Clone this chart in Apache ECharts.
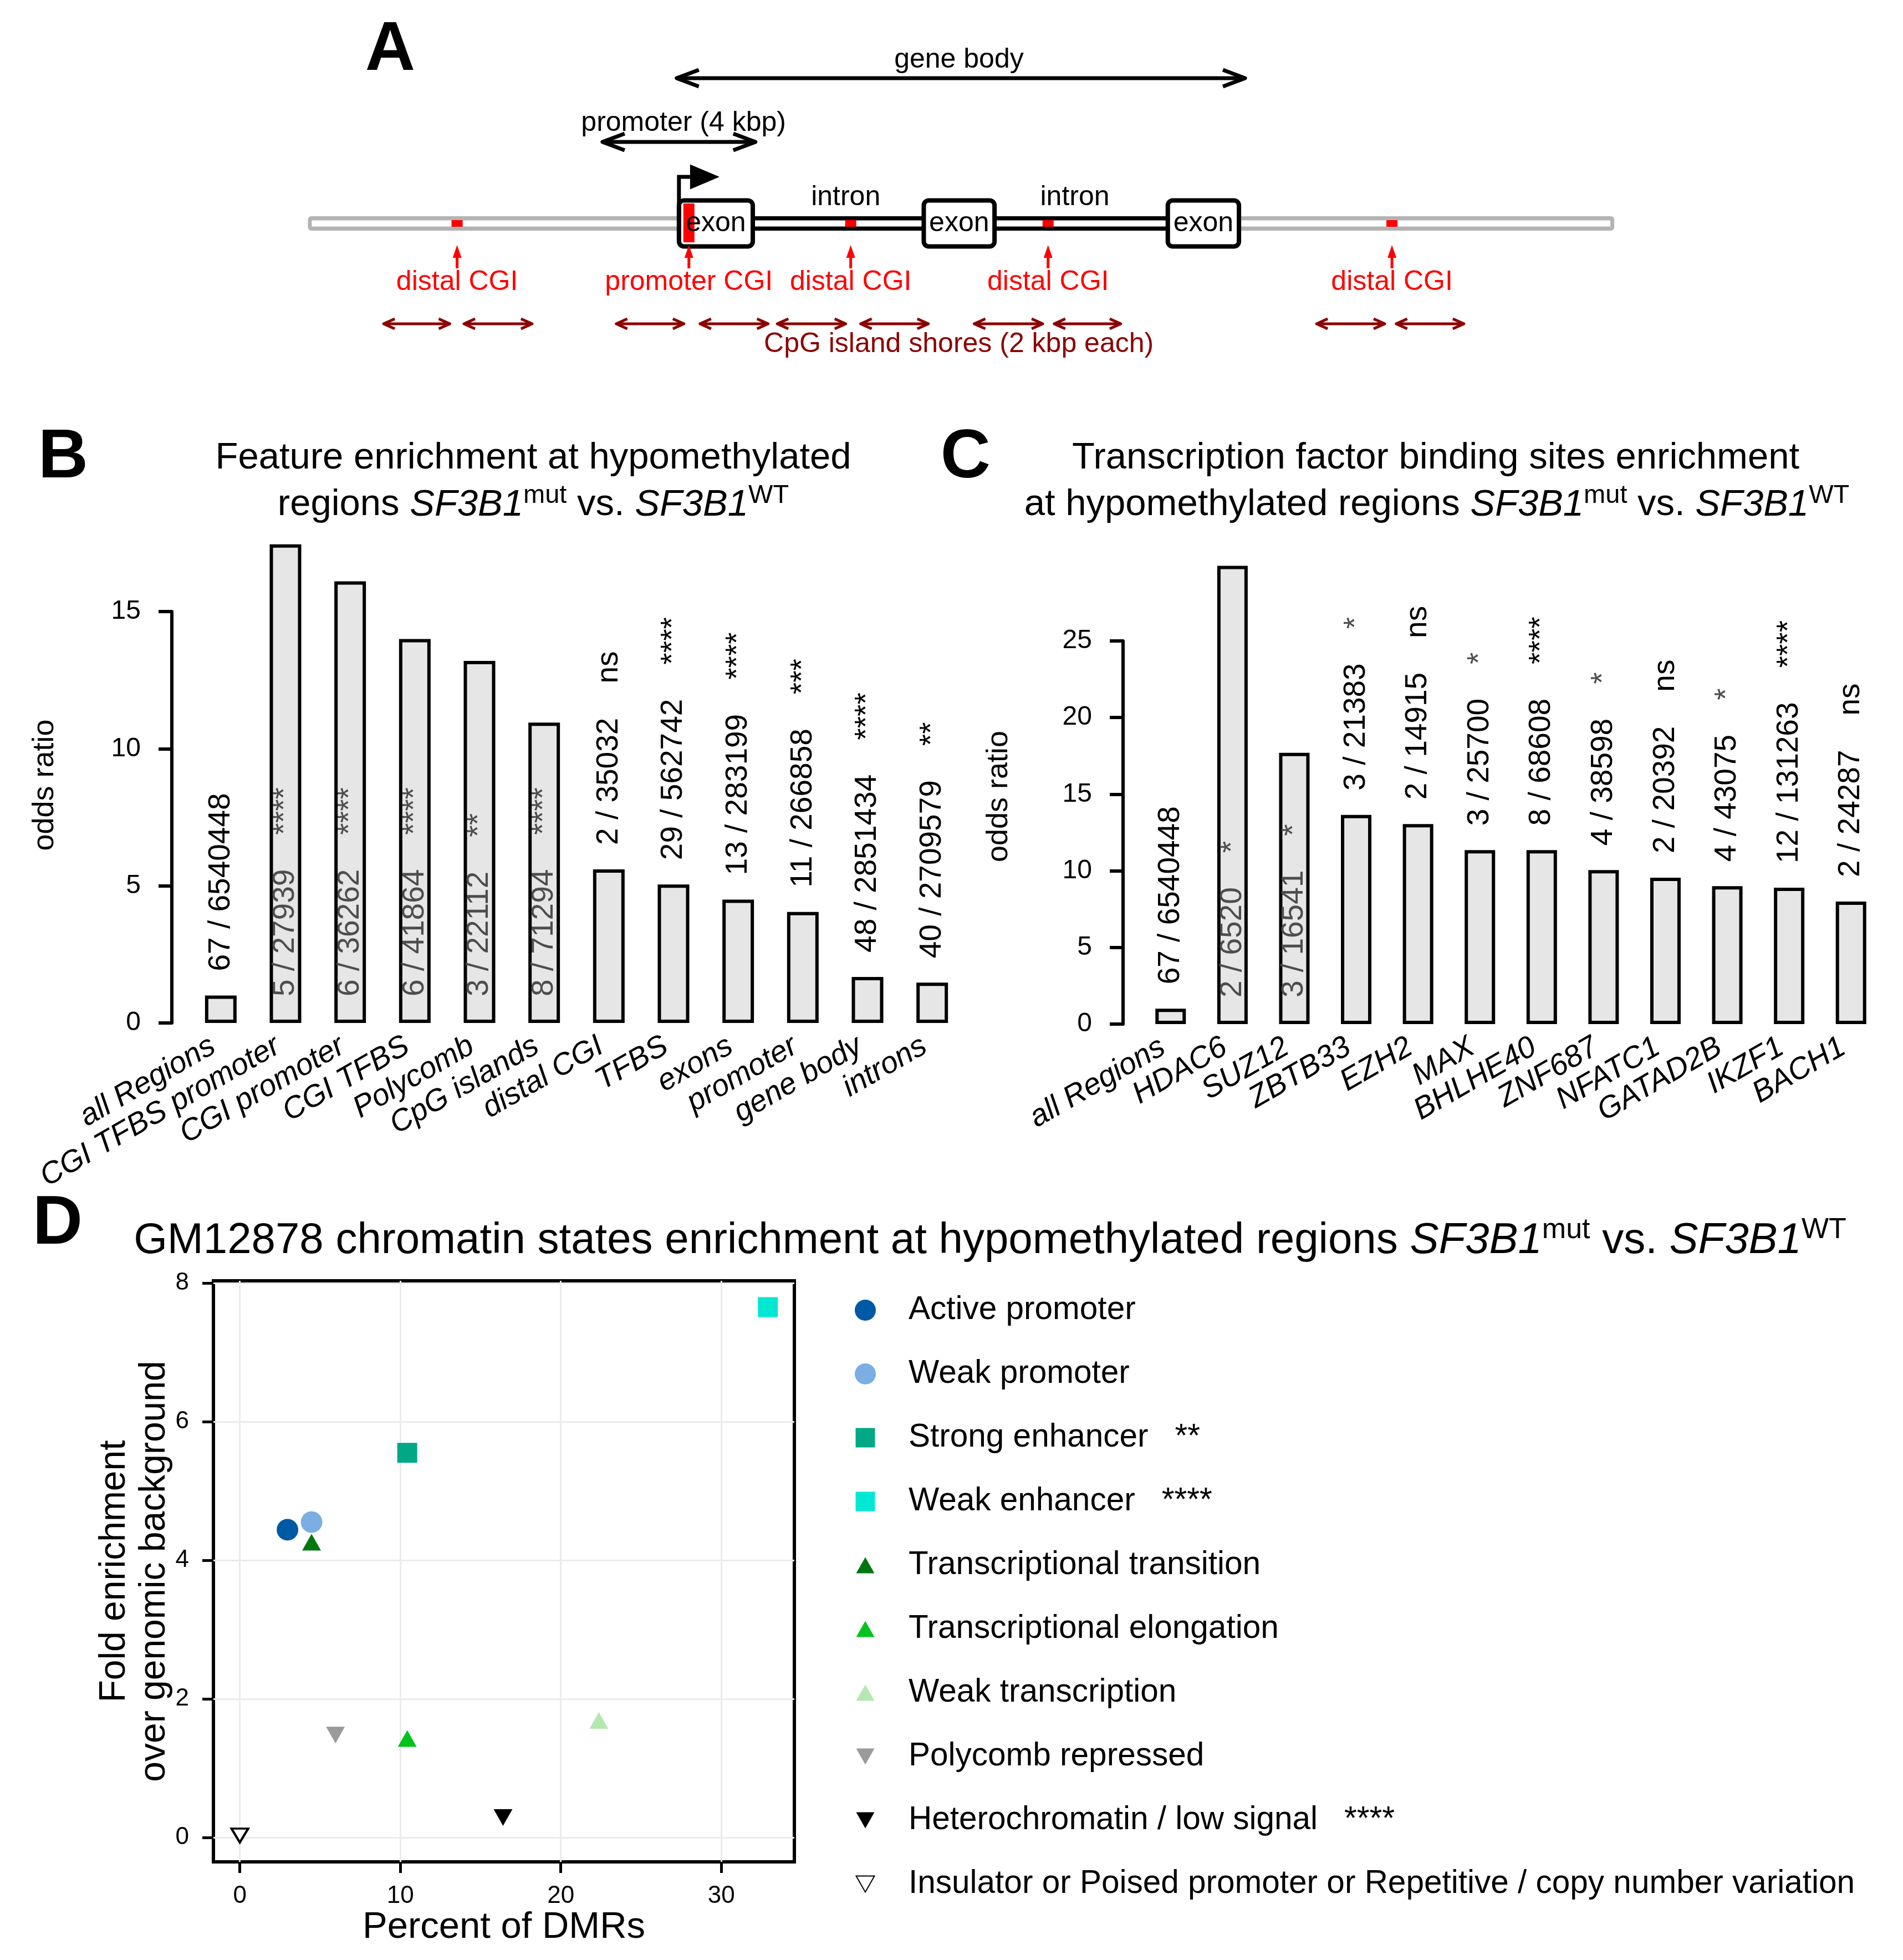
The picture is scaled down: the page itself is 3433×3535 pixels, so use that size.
<!DOCTYPE html>
<html>
<head>
<meta charset="utf-8">
<script src="https://cdn.jsdelivr.net/npm/echarts@6/dist/echarts.min.js"></script>
<style>html,body{margin:0;padding:0;background:#fff}#chart{width:3433px;height:3535px}</style>
</head>
<body>
<div id="chart"></div>
<script>
// ================= DATA =================
// Panel A: schematic locus (x in kbp relative to the TSS)
const aAxisRange = [-17.75, 32.0];
const aGenomeSpan = [-9.7, 24.45];
const aExons = [[0, 1.93], [6.4, 8.25], [12.78, 14.64]];
const aIntronLabelX = [4.36, 10.35];
const aDistalCGI = [-5.8, 4.49, 9.65, 18.64];
const aPromoterCGI = 0.26;
const aShores = [[-7.72, -5.99], [-5.62, -3.84], [-1.64, 0.13], [0.55, 2.33], [2.57, 4.36],
                 [4.75, 6.52], [7.72, 9.51], [9.81, 11.55], [16.67, 18.45], [18.75, 20.52]];
const aGeneBody = [-0.06, 14.8];
const aPromoter = [-2, 2];
const aTssArrowTip = 1.06;

// Panel B
const bCategories = ['all Regions', 'CGI TFBS promoter', 'CGI promoter', 'CGI TFBS', 'Polycomb', 'CpG islands',
                     'distal CGI', 'TFBS', 'exons', 'promoter', 'gene body', 'introns'];
const bOddsRatio = [1.0, 17.45, 16.1, 14.0, 13.2, 10.95, 5.6, 5.05, 4.5, 4.05, 1.68, 1.47];
const bCounts = ['67 / 6540448', '5 / 27939', '6 / 36262', '6 / 41864', '3 / 22112', '8 / 71294',
                 '2 / 35032', '29 / 562742', '13 / 283199', '11 / 266858', '48 / 2851434', '40 / 2709579'];
const bSignif = ['', '****', '****', '****', '**', '****', 'ns', '****', '****', '***', '****', '**'];
const bTicks = [0, 5, 10, 15];

// Panel C
const cCategories = ['all Regions', 'HDAC6', 'SUZ12', 'ZBTB33', 'EZH2', 'MAX', 'BHLHE40', 'ZNF687',
                     'NFATC1', 'GATAD2B', 'IKZF1', 'BACH1'];
const cOddsRatio = [1.0, 29.9, 17.7, 13.65, 13.05, 11.35, 11.35, 10.05, 9.55, 9.0, 8.9, 8.0];
const cCounts = ['67 / 6540448', '2 / 6520', '3 / 16541', '3 / 21383', '2 / 14915', '3 / 25700',
                 '8 / 68608', '4 / 38598', '2 / 20392', '4 / 43075', '12 / 131263', '2 / 24287'];
const cSignif = ['', '*', '*', '*', 'ns', '*', '****', '*', 'ns', '*', '****', 'ns'];
const cTicks = [0, 5, 10, 15, 20, 25];

// Panel D
const dStates = ['Active promoter', 'Weak promoter', 'Strong enhancer', 'Weak enhancer',
                 'Transcriptional transition', 'Transcriptional elongation', 'Weak transcription',
                 'Polycomb repressed', 'Heterochromatin / low signal',
                 'Insulator or Poised promoter or Repetitive / copy number variation'];
const dPercentDMRs = [2.97, 4.47, 10.43, 32.9, 4.47, 10.43, 22.37, 5.96, 16.4, 0.0];
const dFoldEnrichment = [4.44, 4.55, 5.55, 7.65, 4.26, 1.43, 1.69, 1.48, 0.29, 0.03];
const dSignif = ['', '', '**', '****', '', '', '', '', '****', ''];
const dXTicks = [0, 10, 20, 30];
const dYTicks = [0, 2, 4, 6, 8];

// ================= STYLE =================
const FONT = '"Liberation Sans", Arial, Helvetica, sans-serif';
const BLACK = '#000';
const GREY_TXT = '#4d4d4d';
const DOWN_TRI = 'path://M0,0L10,0L5,8.66Z';
const dColors = ['#0059A5', '#7BAEE2', '#00A885', '#00E8D4', '#00760F', '#00C41B', '#B4E8B0', '#9A9A9A', '#000000', '#FFFFFF'];
const dSymbols = ['circle', 'circle', 'rect', 'rect', 'triangle', 'triangle', 'triangle', DOWN_TRI, DOWN_TRI, DOWN_TRI];
const dSizes = [39, 39, 36, 36, [34, 30], [34, 30], [34, 30], [34, 30], [34, 30], [30, 25]];
const SQ_ICON = 'path://M0,0L0,0.01M10,10L10,9.99M0.4,0.4L9.6,0.4L9.6,9.6L0.4,9.6Z';
const UP_ICON = 'path://M0,0L0,0.01M10,10L10,9.99M5,1.2L9.34,8.8L0.66,8.8Z';
const DOWN_ICON = 'path://M0,0L0,0.01M10,10L10,9.99M0.66,1.2L9.34,1.2L5,8.8Z';
const dLegendIcons = ['circle', 'circle', SQ_ICON, SQ_ICON, UP_ICON, UP_ICON, UP_ICON, DOWN_ICON, DOWN_ICON, DOWN_ICON];

// ================= PANEL A renderer =================
const AY = { geneBodyText: 29.5, geneBodyArrow: 26.2, promoterText: 18.1, promoterArrow: 14.7,
  tssTop: 8.4, tssHead: 2.25, exonHalf: 4.15, tubeOuter: 1.3, tubeInner: 0.55, intronText: 4.7,
  cgiHalf: 0.6, promCgiTop: 3.6, promCgiBottom: -3.4, cgiArrowTop: -3.9, cgiArrowBottom: -8.1,
  cgiText: -10.6, shoreArrow: -18.1, shoreText: -21.8 };

function renderA(params, api) {
  const P = (x, y) => api.coord([x, y]);
  const ch = [];
  const rect = (x0, y0, x1, y1, style, r) => {
    const a = P(x0, y0), b = P(x1, y1);
    return { type: 'rect', shape: { x: Math.min(a[0], b[0]), y: Math.min(a[1], b[1]),
      width: Math.abs(b[0] - a[0]), height: Math.abs(b[1] - a[1]), r: r || 0 }, style: style };
  };
  const line = (pts, stroke, lw) => ({ type: 'polyline', shape: { points: pts },
    style: { stroke: stroke, lineWidth: lw, fill: null, lineJoin: 'round', lineCap: 'butt' } });
  const poly = (pts, fill) => ({ type: 'polygon', shape: { points: pts }, style: { fill: fill } });
  const text = (str, x, y, color) => {
    const p = P(x, y);
    return { type: 'text', style: { text: str, x: p[0], y: p[1], fill: color, fontSize: 50,
      fontFamily: FONT, align: 'center', verticalAlign: 'middle' } };
  };
  const dbl = (x0, x1, y, color, lw, hl, hw) => {
    const a = P(x0, y), b = P(x1, y);
    ch.push(line([a, b], color, lw));
    ch.push(line([[a[0] + hl, a[1] - hw], a, [a[0] + hl, a[1] + hw]], color, lw));
    ch.push(line([[b[0] - hl, b[1] - hw], b, [b[0] - hl, b[1] + hw]], color, lw));
  };
  // grey genome tube
  ch.push(rect(aGenomeSpan[0], AY.tubeOuter, aGenomeSpan[1], -AY.tubeOuter, { fill: '#b3b3b3' }, 6));
  ch.push(rect(aGenomeSpan[0] + 0.1, AY.tubeInner, aGenomeSpan[1] - 0.1, -AY.tubeInner, { fill: '#fff' }));
  // black gene tube
  ch.push(rect(aExons[0][1], AY.tubeOuter, aExons[2][0], -AY.tubeOuter, { fill: '#000' }));
  ch.push(rect(aExons[0][1], AY.tubeInner, aExons[2][0], -AY.tubeInner, { fill: '#fff' }));
  // distal CGIs inside tube
  aDistalCGI.forEach(x => ch.push(rect(x - 0.145, AY.cgiHalf, x + 0.145, -AY.cgiHalf, { fill: '#ff0000' })));
  // exons
  aExons.forEach(e => ch.push(rect(e[0], AY.exonHalf, e[1], -AY.exonHalf,
    { fill: '#fff', stroke: '#000', lineWidth: 8 }, 9)));
  // promoter CGI bar
  ch.push(rect(aPromoterCGI - 0.145, AY.promCgiTop, aPromoterCGI + 0.145, AY.promCgiBottom, { fill: '#ff0000' }));
  aExons.forEach(e => ch.push(text('exon', (e[0] + e[1]) / 2, 0, BLACK)));
  aIntronLabelX.forEach(x => ch.push(text('intron', x, AY.intronText, BLACK)));
  // TSS arrow
  const t0 = P(aExons[0][0], 0), t1 = P(aExons[0][0], AY.tssTop), tb = P(aPromoterCGI + 0.03, AY.tssTop),
        tt = P(aTssArrowTip, AY.tssTop), th = P(aPromoterCGI + 0.03, AY.tssTop + AY.tssHead),
        tl = P(aPromoterCGI + 0.03, AY.tssTop - AY.tssHead);
  ch.push({ type: 'polyline', shape: { points: [t0, t1, tb] }, style: { stroke: BLACK, lineWidth: 7, fill: null, lineJoin: 'miter' } });
  ch.push(poly([th, tt, tl], BLACK));
  // gene body & promoter arrows
  dbl(aGeneBody[0], aGeneBody[1], AY.geneBodyArrow, BLACK, 7, 40, 15);
  ch.push(text('gene body', (aGeneBody[0] + aGeneBody[1]) / 2 - 0.05, AY.geneBodyText, BLACK));
  dbl(aPromoter[0], aPromoter[1], AY.promoterArrow, BLACK, 7, 40, 15);
  ch.push(text('promoter (4 kbp)', (aPromoter[0] + aPromoter[1]) / 2 + 0.12, AY.promoterText, BLACK));
  // CGI arrows + labels
  const cgiAll = [aDistalCGI[0], aPromoterCGI, aDistalCGI[1], aDistalCGI[2], aDistalCGI[3]];
  const cgiNames = ['distal CGI', 'promoter CGI', 'distal CGI', 'distal CGI', 'distal CGI'];
  cgiAll.forEach((x, i) => {
    const tip = P(x, AY.cgiArrowTop), bot = P(x, AY.cgiArrowBottom);
    ch.push(line([bot, [tip[0], tip[1] + 20]], '#ff0000', 5));
    ch.push(poly([[tip[0] - 8, tip[1] + 23], tip, [tip[0] + 8, tip[1] + 23]], '#ff0000'));
    ch.push(text(cgiNames[i], x, AY.cgiText, '#ff0000'));
  });
  // shores
  aShores.forEach(s => dbl(s[0], s[1], AY.shoreArrow, '#8b0000', 5, 20, 9));
  ch.push(text('CpG island shores (2 kbp each)', (aShores[4][0] + aShores[5][1]) / 2 + 2.77, AY.shoreText, '#8b0000'));
  return { type: 'group', children: ch };
}

// ================= bar helpers =================
const NUM_FS = 55;
function barData(vals, counts, sig, pxPerUnit) {
  return vals.map((v, i) => {
    const inside = v * pxPerUnit > 420;
    let txt = '{' + (inside ? 'ni' : 'no') + '|' + counts[i] + '}';
    if (sig[i]) {
      const st = inside ? 'si' : (sig[i] === '*' ? 'sg' : 'so');
      txt += '{gap|}{' + st + '|' + sig[i] + '}';
    }
    return { value: v, label: { position: inside ? 'insideBottom' : 'top', distance: inside ? 48 : 44, formatter: txt } };
  });
}
const barRich = {
  ni: { color: GREY_TXT, fontSize: NUM_FS, fontFamily: FONT },
  no: { color: BLACK, fontSize: NUM_FS, fontFamily: FONT },
  si: { color: GREY_TXT, fontSize: NUM_FS, fontFamily: FONT },
  so: { color: BLACK, fontSize: NUM_FS, fontFamily: FONT },
  sg: { color: GREY_TXT, fontSize: NUM_FS, fontFamily: FONT },
  gap: { width: 62 }
};
function barSeries(idx, data, width) {
  return {
    type: 'bar', xAxisIndex: idx, yAxisIndex: idx, data: data, barWidth: width, clip: false, silent: true,
    itemStyle: { color: '#e6e6e6', borderColor: BLACK, borderWidth: 6 },
    label: { show: true, rotate: 90, align: 'left', verticalAlign: 'middle', fontFamily: FONT, fontSize: NUM_FS, rich: barRich }
  };
}
function catAxis(idx, cats) {
  return { gridIndex: idx, type: 'category', data: cats, axisLine: { show: false }, axisTick: { show: false },
    axisLabel: { rotate: 30, interval: 0, fontStyle: 'italic', fontSize: 55, color: BLACK, margin: 30,
      padding: [0, 16, 0, 0], fontFamily: FONT } };
}
function oddsAxis(idx, ticks, nameGap, pad) {
  return { gridIndex: idx, type: 'value', min: ticks[0], max: ticks[ticks.length - 1], interval: ticks[1] - ticks[0], offset: 30,
    axisLine: { show: true, lineStyle: { color: BLACK, width: 6 } },
    axisTick: { show: true, length: 24, lineStyle: { color: BLACK, width: 6 } },
    axisLabel: { fontSize: 48, color: BLACK, margin: 56, fontFamily: FONT },
    splitLine: { show: false },
    name: 'odds ratio', nameLocation: 'middle', nameGap: nameGap,
    nameTextStyle: { fontSize: 54, color: BLACK, fontFamily: FONT, padding: [0, 0, 0, pad] } };
}

// ================= titles =================
const tRich = {
  n: { fontSize: 67, fontFamily: FONT, color: BLACK, lineHeight: 80 },
  i: { fontSize: 67, fontFamily: FONT, color: BLACK, fontStyle: 'italic', lineHeight: 80 },
  s: { fontSize: 47, fontFamily: FONT, color: BLACK, lineHeight: 30, verticalAlign: 'top' },
  N: { fontSize: 78, fontFamily: FONT, color: BLACK, lineHeight: 90 },
  I: { fontSize: 78, fontFamily: FONT, color: BLACK, fontStyle: 'italic', lineHeight: 90 },
  S: { fontSize: 52, fontFamily: FONT, color: BLACK, lineHeight: 38, verticalAlign: 'top' }
};
function tline(text, x, yCenter, lh) {
  return { text: text, left: x, top: yCenter - lh / 2, textAlign: 'center', padding: 0,
    textStyle: { fontSize: 67, fontFamily: FONT, color: BLACK, fontWeight: 'normal', lineHeight: lh, rich: tRich } };
}
function letter(ch, x, yCenter) {
  return { text: ch, left: x, top: yCenter - 62, textAlign: 'center', padding: 0,
    textStyle: { fontSize: 125, fontWeight: 'bold', fontFamily: FONT, color: BLACK, lineHeight: 124 } };
}

// ================= chart =================
const chart = echarts.init(document.getElementById('chart'), null, { renderer: 'canvas' });
const dSeries = dStates.map((name, i) => ({
  type: 'scatter', name: name, xAxisIndex: 3, yAxisIndex: 3, z: 4, silent: true,
  data: [[dPercentDMRs[i], dFoldEnrichment[i]]],
  symbol: dSymbols[i], symbolSize: dSizes[i],
  itemStyle: i === 9 ? { color: '#fff', borderColor: BLACK, borderWidth: 4, opacity: 1 } : { color: dColors[i], opacity: 1 }
}));

const option = {
  animation: false,
  backgroundColor: '#fff',
  textStyle: { fontFamily: FONT },
  title: [
    letter('A', 704, 92), letter('B', 114, 827), letter('C', 1742, 827), letter('D', 104, 2209),
    tline('{n|Feature enrichment at hypomethylated}', 962, 827, 80),
    tline('{n|regions }{i|SF3B1}{s|mut}{n| vs. }{i|SF3B1}{s|WT}', 962, 911, 80),
    tline('{n|Transcription factor binding sites enrichment}', 2590, 827, 80),
    tline('{n|at hypomethylated regions }{i|SF3B1}{s|mut}{n| vs. }{i|SF3B1}{s|WT}', 2592, 911, 80),
    tline('{N|GM12878 chromatin states enrichment at hypomethylated regions }{I|SF3B1}{S|mut}{N| vs. }{I|SF3B1}{S|WT}', 1786, 2238, 90)
  ],
  grid: [
    { left: 0, top: 0, width: 3433, height: 700, show: false },
    { left: 340, top: 1103, width: 1400, height: 742 },
    { left: 2056, top: 1156, width: 1339, height: 691 },
    { left: 385, top: 2310, width: 1048, height: 1048, show: true, borderColor: BLACK, borderWidth: 6, backgroundColor: 'transparent' }
  ],
  xAxis: [
    { gridIndex: 0, type: 'value', min: aAxisRange[0], max: aAxisRange[1], show: false },
    catAxis(1, bCategories),
    catAxis(2, cCategories),
    { gridIndex: 3, type: 'value', min: -1.645, max: 34.55,
      axisLine: { show: false, onZero: false },
      axisTick: { show: true, length: 20, lineStyle: { color: BLACK, width: 5 }, customValues: dXTicks },
      axisLabel: { fontSize: 44, color: BLACK, margin: 40, fontFamily: FONT, customValues: dXTicks },
      splitLine: { show: false },
      name: 'Percent of DMRs', nameLocation: 'middle', nameGap: 82,
      nameTextStyle: { fontSize: 67, color: BLACK, fontFamily: FONT } }
  ],
  yAxis: [
    { gridIndex: 0, type: 'value', min: -29.7, max: 40.3, show: false },
    oddsAxis(1, bTicks, 202, 116),
    oddsAxis(2, cTicks, 197, 130),
    { gridIndex: 3, type: 'value', min: -0.35, max: 8.03,
      axisLine: { show: false, onZero: false },
      axisTick: { show: true, length: 20, lineStyle: { color: BLACK, width: 5 }, customValues: dYTicks },
      axisLabel: { fontSize: 44, color: BLACK, margin: 44, fontFamily: FONT, customValues: dYTicks },
      splitLine: { show: false },
      name: 'Fold enrichment\nover genomic background', nameLocation: 'middle', nameGap: 70, nameMoveOverlap: false,
      nameTextStyle: { fontSize: 66, color: BLACK, fontFamily: FONT, lineHeight: 72 } }
  ],
  legend: {
    orient: 'vertical', left: 1536, top: 2328, itemWidth: 146, itemHeight: 38, itemGap: 55,
    selectedMode: false, symbolKeepAspect: true,
    data: dStates.map((n, i) => ({ name: n, icon: dLegendIcons[i] })),
    formatter: function (name) {
      const s = dSignif[dStates.indexOf(name)];
      return s ? '{t|' + name + '}{s|' + s + '}' : '{t|' + name + '}';
    },
    textStyle: { fontSize: 58.5, color: BLACK, fontFamily: FONT, lineHeight: 60,
      rich: { t: { fontSize: 58.5, color: BLACK, fontFamily: FONT, lineHeight: 60 },
              s: { fontSize: 58.5, color: BLACK, fontFamily: FONT, lineHeight: 60, padding: [0, 0, 0, 48] } } }
  },
  series: [
    { type: 'custom', xAxisIndex: 0, yAxisIndex: 0, data: [[0, 0]], renderItem: renderA, silent: true, clip: false },
    barSeries(1, barData(bOddsRatio, bCounts, bSignif, 742 / 15), 57),
    barSeries(2, barData(cOddsRatio, cCounts, cSignif, 691 / 25), 55),
    { type: 'scatter', xAxisIndex: 3, yAxisIndex: 3, data: [], z: 1, silent: true,
      markLine: { silent: true, z: 1, symbol: 'none', label: { show: false }, animation: false,
        lineStyle: { color: '#ebebeb', width: 3, type: 'solid' },
        data: dXTicks.map(v => ({ xAxis: v })).concat(dYTicks.map(v => ({ yAxis: v }))) } }
  ].concat(dSeries)
};
chart.setOption(option);
</script>
</body>
</html>
